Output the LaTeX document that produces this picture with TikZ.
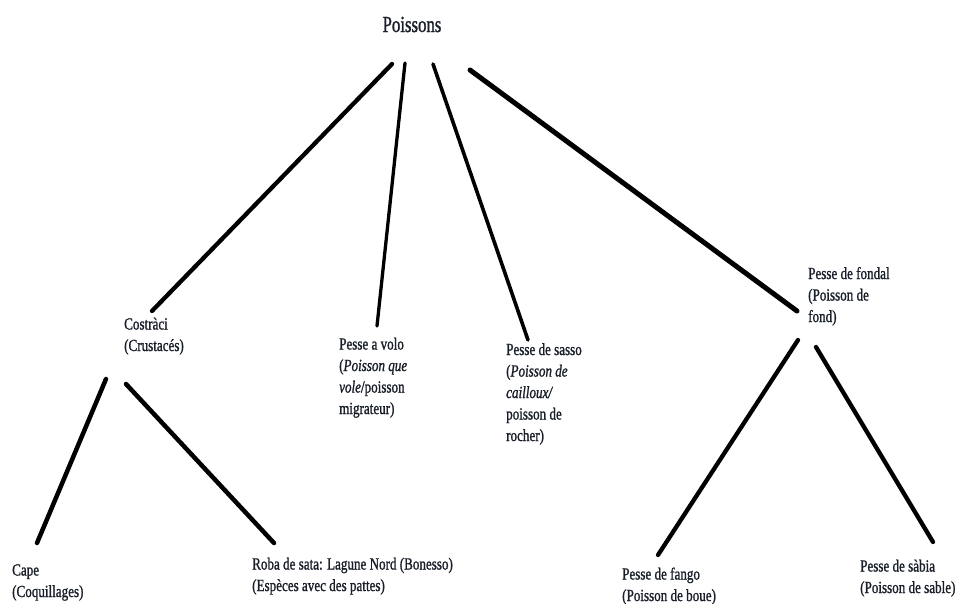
\documentclass[tikz,border=0pt]{standalone}
\usepackage{fontspec}
\setmainfont{Liberation Serif}[FakeStretch=0.77,FakeBold=1.2]
\newfontfamily\titlefont{Liberation Serif}[FakeStretch=0.73,FakeBold=1.2]
\definecolor{ink}{rgb}{0.10,0.12,0.16}
\begin{document}
\begin{tikzpicture}[x=1pt,y=-1pt,
  lbl/.style={inner sep=0pt,anchor=base west,align=left,text=ink,
    font=\fontsize{17}{21.5}\selectfont},
  ttl/.style={inner sep=0pt,anchor=base,text=ink,font=\titlefont\fontsize{23}{27}\selectfont},
  branch/.style={line width=4.5pt,line cap=round,black},
  thinbranch/.style={line width=3.6pt,line cap=round,black}]
\useasboundingbox (0,0) rectangle (956,603);
% nodes (anchor = baseline of the last line)
\node[ttl] (root) at (412,32) {Poissons};
\node[lbl] (cost) at (124,351) {Costràci\\(Crustacés)};
\node[lbl] (volo) at (339,414) {Pesse a volo\\(\textit{Poisson que}\\\textit{vole}/poisson\\migrateur)};
\node[lbl] (sasso) at (506,441) {Pesse de sasso\\(\textit{Poisson de}\\\textit{cailloux/}\\poisson de\\rocher)};
\node[lbl] (fond) at (808,322) {Pesse de fondal\\(Poisson de\\fond)};
\node[lbl] (cape) at (12,597) {Cape\\(Coquillages)};
\node[lbl] (roba) at (252,591) {Roba de sata: Lagune Nord (Bonesso)\\(Espèces avec des pattes)};
\node[lbl] (fango) at (622,601) {Pesse de fango\\(Poisson de boue)};
\node[lbl] (sabia) at (860,593) {Pesse de sàbia\\(Poisson de sable)};
% connector ends
\coordinate (r1) at (392,64);  \coordinate (c1) at (152,311);
\coordinate (r2) at (405,63);  \coordinate (v1) at (377,326);
\coordinate (r3) at (433,64);  \coordinate (s1) at (528,340);
\coordinate (r4) at (470,70);  \coordinate (f1) at (797,311);
\coordinate (c2) at (106,379); \coordinate (ca1) at (37,543);
\coordinate (c3) at (126,384); \coordinate (ro1) at (274,543);
\coordinate (f2) at (798,340); \coordinate (fa1) at (658,555);
\coordinate (f3) at (816,347); \coordinate (sa1) at (933,542);
% connectors
\draw[branch,line width=4.3pt] (r1) -- (c1);
\draw[thinbranch,line width=3.3pt] (r2) -- (v1);
\draw[thinbranch] (r3) -- (s1);
\draw[branch,line width=5pt] (r4) -- (f1);
\draw[branch] (c2) -- (ca1);
\draw[branch] (c3) -- (ro1);
\draw[branch,line width=4.3pt] (f2) -- (fa1);
\draw[branch,line width=4.3pt] (f3) -- (sa1);
\end{tikzpicture}
\end{document}
